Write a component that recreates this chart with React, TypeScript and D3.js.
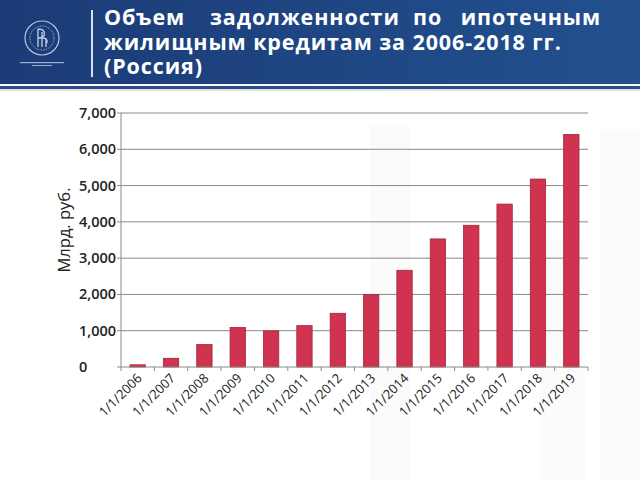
import React from "react";
import * as d3 from "d3";

const categories = ["1/1/2006","1/1/2007","1/1/2008","1/1/2009","1/1/2010","1/1/2011","1/1/2012","1/1/2013","1/1/2014","1/1/2015","1/1/2016","1/1/2017","1/1/2018","1/1/2019"];
const values = [60, 240, 620, 1090, 995, 1140, 1480, 2000, 2665, 3530, 3905, 4490, 5180, 6410];
const yTicks = [0, 1000, 2000, 3000, 4000, 5000, 6000, 7000];
const titleLine1 = ["Объем", "задолженности", "по", "ипотечным"];
const titleLine2 = "жилищным кредитам за 2006-2018 гг.";
const titleLine3 = "(Россия)";
const yLabel = "Млрд. руб.";

const W = 640, H = 480;
const plot = { left: 121, right: 588, top: 113, bottom: 367 };

export default function App() {
  const x = d3.scaleBand<string>().domain(categories).range([plot.left, plot.right]).paddingInner(0.54).paddingOuter(0.27);
  const y = d3.scaleLinear().domain([0, 7000]).range([plot.bottom, plot.top]);
  const step = (plot.right - plot.left) / categories.length;
  const fmt = d3.format(",");
  const word1x = [104, 210, 413, 601];
  return (
    <div style={{ position: "fixed", left: 0, top: 0, width: W, height: H, background: "#fff" }}>
      <svg width={W} height={H} style={{ display: "block" }}>
        <defs>
          <linearGradient id="hdr" x1="0" x2="1" y1="0" y2="0">
            <stop offset="0" stopColor="#1b3b76" />
            <stop offset="1" stopColor="#22508f" />
          </linearGradient>
        </defs>
        <rect x={0} y={0} width={W} height={H} fill="#ffffff" />
        {/* faint watermark */}
        <g fill="#fbfbfb">
          <rect x={370} y={125} width={40} height={355} />
          <rect x={540} y={240} width={45} height={240} />
          <rect x={600} y={130} width={40} height={350} />
        </g>
        {/* header */}
        <rect x={0} y={0} width={W} height={84} fill="url(#hdr)" />
        <rect x={0} y={84} width={W} height={2} fill="#ffffff" />
        <rect x={0} y={86} width={W} height={3} fill="#2c4c86" />
        <rect x={0} y={89} width={W} height={2} fill="#dfe3ea" />
        {/* logo */}
        <g stroke="#b9c6df" fill="none">
          <circle cx={42} cy={38} r={17} strokeWidth={1.2} />
          <circle cx={42} cy={38} r={12} strokeWidth={0.8} strokeDasharray="1.5 1.2" />
          <path d="M38 29 V47 M42 32 V47 M46 38 V47 M38 29 Q46 29 44 36 Q42 38 38 38 M42 38 Q48 38 47 43" strokeWidth={1.4} />
        </g>
        <rect x={20} y={62} width={44} height={1.2} fill="#9fb0cf" />
        <rect x={32} y={65} width={20} height={1} fill="#9fb0cf" />
        <rect x={91} y={10} width={2} height={67} fill="#d9e1ee" />
        {/* title */}
        <g fontFamily="Open Sans" fontWeight="bold" fontSize={21.5} letterSpacing={0.9} fill="#ffffff">
          {titleLine1.map((w, i) => (
            <text key={w} x={word1x[i]} y={25} textAnchor={i === titleLine1.length - 1 ? "end" : "start"}>{w}</text>
          ))}
          <text x={104} y={50}>{titleLine2}</text>
          <text x={104} y={74}>{titleLine3}</text>
        </g>
        {/* gridlines */}
        {yTicks.map((t) => (
          <g key={t}>
            {t > 0 && <line x1={plot.left} x2={plot.right} y1={y(t)} y2={y(t)} stroke="#8a8a8a" strokeWidth={1} />}
            <line x1={plot.left - 4} x2={plot.left} y1={y(t)} y2={y(t)} stroke="#8a8a8a" />
            <text x={79} y={y(t) + 5} fontFamily="Open Sans" fontWeight="600" fontSize={14.5} fill="#222">{fmt(t)}</text>
          </g>
        ))}
        <line x1={plot.left} x2={plot.left} y1={plot.top} y2={plot.bottom} stroke="#8a8a8a" />
        {/* bars */}
        {categories.map((c, i) => (
          <rect key={c} x={x(c)} y={y(values[i])} width={x.bandwidth()} height={y(0) - y(values[i])} fill="#cf3350" stroke="#a3243c" strokeWidth={0.8} />
        ))}
        {/* x axis */}
        <line x1={plot.left} x2={plot.right} y1={plot.bottom} y2={plot.bottom} stroke="#8a8a8a" />
        {d3.range(categories.length + 1).map((i) => (
          <line key={i} x1={plot.left + i * step} x2={plot.left + i * step} y1={plot.bottom} y2={plot.bottom + 4} stroke="#8a8a8a" />
        ))}
        {categories.map((c) => {
          const cx = (x(c) as number) + x.bandwidth() / 2 + 5;
          const cy = plot.bottom + 12;
          return (
            <text key={c} x={cx} y={cy} transform={`rotate(-45 ${cx} ${cy})`} textAnchor="end" fontFamily="Open Sans" fontSize={13} fill="#1a1a1a">{c}</text>
          );
        })}
        {/* y label */}
        <text transform="translate(70 230) rotate(-90)" textAnchor="middle" fontFamily="Open Sans" fontSize={16.5} fill="#222">{yLabel}</text>
      </svg>
    </div>
  );
}
